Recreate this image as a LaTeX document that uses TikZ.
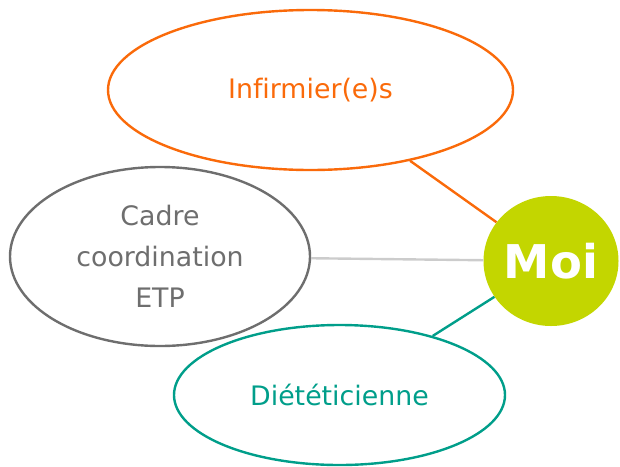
\documentclass[tikz,border=0pt]{standalone}
\usepackage{fontspec}
\setmainfont[Ligatures=NoCommon]{DejaVu Sans}
\usetikzlibrary{shapes.geometric}
\definecolor{orangec}{HTML}{FA6A0A}
\definecolor{greyc}{HTML}{6E6E6E}
\definecolor{tealc}{HTML}{009E8A}
\definecolor{limec}{HTML}{C3D600}
\definecolor{lightc}{HTML}{CCCCCC}
\begin{document}
\begin{tikzpicture}[x=1pt,y=-1pt,
  bubble/.style={ellipse, draw, line width=2.4pt, inner sep=0pt, align=center,
    font=\fontsize{26.8}{41}\selectfont},
  link/.style={line width=2.4pt}]
\useasboundingbox (0,0) rectangle (620,466);
\node[bubble, draw=orangec, text=orangec, minimum width=405pt, minimum height=160pt] (inf) at (310.5,90) {\raisebox{-1.5pt}{Infirmier(e)s}};
\node[bubble, draw=greyc, text=greyc, minimum width=300pt, minimum height=179pt] (cadre) at (160,256.5) {Cadre\\coordination\\ETP};
\node[bubble, draw=tealc, text=tealc, minimum width=331pt, minimum height=140pt] (diet) at (339.5,395) {Diététicienne};
\node[ellipse, fill=limec, inner sep=0pt, minimum width=135pt, minimum height=130pt,
  text=white, font=\fontsize{46.5}{50}\selectfont\bfseries] (moi) at (551,261) {Moi};
\draw[link, orangec] (inf) -- (moi);
\draw[link, lightc] (cadre) -- (moi);
\draw[link, tealc] (diet) -- (moi);
\end{tikzpicture}
\end{document}
